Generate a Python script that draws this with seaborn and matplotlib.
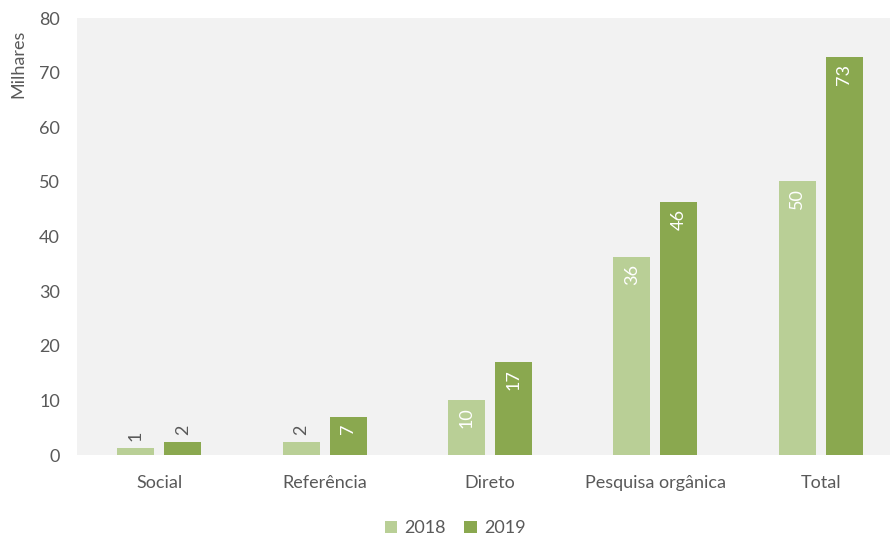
import pandas as pd
import matplotlib
matplotlib.use("Agg")
import matplotlib.pyplot as plt
import seaborn as sns

# dados (milhares de sessões)
categorias = ["Social", "Referência", "Direto", "Pesquisa orgânica", "Total"]
anos = ["2018", "2019"]
valores_2018 = [1.3, 2.4, 10.1, 36.3, 50.1]
valores_2019 = [2.4, 7.0, 17.0, 46.4, 72.8]
cores = {"2018": "#b9cf96", "2019": "#8aa84f"}

df = pd.DataFrame({
    "Categoria": categorias * 2,
    "Ano": ["2018"] * len(categorias) + ["2019"] * len(categorias),
    "Valor": valores_2018 + valores_2019,
})

sns.set_style("white")
plt.rcParams["font.family"] = ["Lato", "DejaVu Sans"]
cinza = "#595959"

fig = plt.figure(figsize=(8.9, 5.38), dpi=100)
ax = fig.add_axes([0.086, 0.154, 0.929, 0.8125])
ax.set_facecolor("#f2f2f2")

sns.barplot(data=df, x="Categoria", y="Valor", hue="Ano", hue_order=anos,
            palette=cores, saturation=1, width=0.569, gap=0.213,
            linewidth=0, edgecolor="none", ax=ax, legend=True)

# rótulos de valor (rodados), dentro da barra se couber
for cont in ax.containers:
    for barra in cont:
        v = barra.get_height()
        xc = barra.get_x() + barra.get_width() / 2
        if v >= 5:
            ax.annotate(f"{v:.0f}", (xc, v), xytext=(0, -5), textcoords="offset points",
                        rotation=90, ha="center", va="top", color="white", fontsize=13)
        else:
            ax.annotate(f"{v:.0f}", (xc, v), xytext=(0, 5), textcoords="offset points",
                        rotation=90, ha="center", va="bottom", color=cinza, fontsize=13)

ax.set_ylim(0, 80)
ax.set_yticks(range(0, 81, 10))
ax.set_xlim(-0.5, len(categorias) - 0.5)
ax.set_xlabel("")
ax.set_ylabel("Milhares", color=cinza, fontsize=13)
ax.yaxis.set_label_coords(-0.061, 0.895)
ax.tick_params(axis="both", length=0, colors=cinza, labelsize=13)
ax.tick_params(axis="x", pad=14)
ax.tick_params(axis="y", pad=12)
for s in ax.spines.values():
    s.set_visible(False)

ax.legend(loc="upper center", bbox_to_anchor=(0.458, -0.112), ncol=2, frameon=False,
          fontsize=13, handlelength=0.7, handleheight=0.7, handletextpad=0.4,
          columnspacing=1.0, labelcolor=cinza)

fig.savefig("out.png", dpi=100)
